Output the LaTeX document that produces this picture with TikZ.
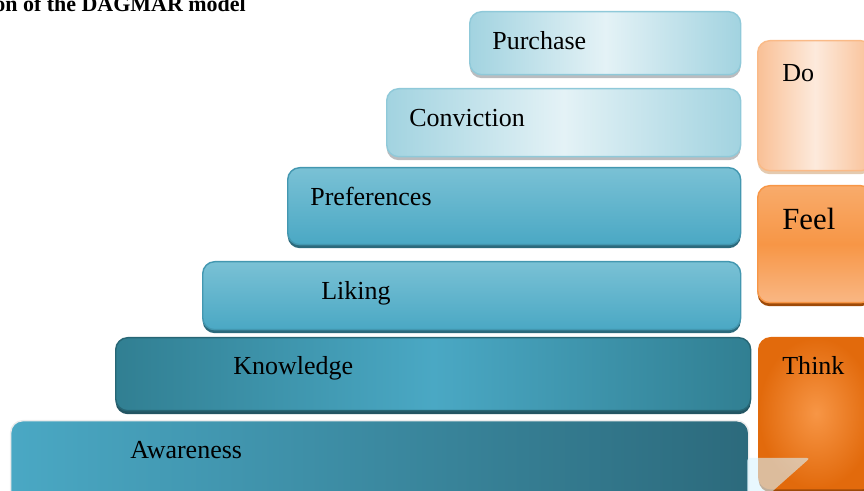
\documentclass[tikz,border=0pt]{standalone}
\usepackage{fontspec}
\setmainfont{Liberation Serif}
\usepackage{tikz}
\usetikzlibrary{shadows,positioning}

\definecolor{paleblue}{HTML}{E4F2F6}
\definecolor{lightblue}{HTML}{A2D3E0}
\definecolor{lightedge}{HTML}{8FC9D9}
\definecolor{midblue}{HTML}{4AA8C4}
\definecolor{topblue}{HTML}{7AC1D5}
\definecolor{darkteal}{HTML}{317F92}
\definecolor{deepteal}{HTML}{2C6A7C}
\definecolor{peach}{HTML}{F9C096}
\definecolor{palepeach}{HTML}{FDEADC}
\definecolor{orangemid}{HTML}{F79646}
\definecolor{orangedark}{HTML}{E26A0C}
\definecolor{orangelight}{HTML}{F9B784}

\begin{document}
\begin{tikzpicture}
[box/.style={rectangle,rounded corners=0.24cm,inner sep=0pt,anchor=north west},
 lightbar/.style={box,draw=lightedge,thick,left color=lightblue,right color=lightblue,middle color=paleblue,
   drop shadow={shadow xshift=0cm,shadow yshift=-0.07cm,fill=gray!80!cyan!60!black,opacity=0.45}},
 midbar/.style={box,draw=midblue!90!black,thick,top color=topblue,bottom color=midblue,
   drop shadow={shadow xshift=0cm,shadow yshift=-0.07cm,fill=deepteal,opacity=1}},
 lbl/.style={inner sep=0pt,anchor=base west,font=\fontsize{14.8}{17}\selectfont}]

\useasboundingbox (0,0) rectangle (17.28,9.82);

\node[anchor=base west,inner sep=0pt,font=\fontsize{12.5}{15}\selectfont\bfseries] (title) at (-0.12,9.58) {on of the DAGMAR model};

\node[lightbar,minimum width=5.42cm,minimum height=1.26cm] (purchase) at (9.38,9.60) {};
\node[lightbar,minimum width=7.08cm,minimum height=1.36cm] (conviction) at (7.72,8.06) {};
\node[midbar,minimum width=9.06cm,minimum height=1.54cm] (preferences) at (5.74,6.48) {};
\node[midbar,minimum width=10.76cm,minimum height=1.36cm] (liking) at (4.04,4.60) {};
\node[box,minimum width=12.70cm,minimum height=1.46cm,draw=darkteal!80!black,thick,
  left color=darkteal,right color=darkteal,middle color=midblue,
  drop shadow={shadow xshift=0cm,shadow yshift=-0.07cm,fill=deepteal!80!black,opacity=1}] (knowledge) at (2.30,3.08) {};
\node[box,minimum width=14.76cm,minimum height=1.80cm,draw=white!85!gray,thick,
  shading angle=60,left color=midblue,right color=deepteal] (awareness) at (0.20,1.42) {};

\node[box,minimum width=2.30cm,minimum height=2.60cm,draw=peach!90!orange,thick,
  shading angle=45,left color=peach,right color=peach,middle color=palepeach,
  drop shadow={shadow xshift=0cm,shadow yshift=-0.07cm,fill=brown!70,opacity=0.6}] (do) at (15.14,9.02) {};
\node[box,minimum width=2.30cm,minimum height=2.34cm,draw=orangemid,thick,
  top color=orangemid!80!white,bottom color=orangelight,middle color=orangemid,
  drop shadow={shadow xshift=0cm,shadow yshift=-0.07cm,fill=orangedark!70!black,opacity=1}] (feel) at (15.14,6.12) {};
\node[box,minimum width=2.30cm,minimum height=3.02cm,draw=orangedark,thick,
  inner color=orangemid,outer color=orangedark,
  drop shadow={shadow xshift=0cm,shadow yshift=-0.07cm,fill=orangedark!70!black,opacity=1}] (think) at (15.16,3.08) {};

\fill[cyan!15!white,opacity=0.6,rounded corners=0.06cm] (14.94,0.66) -- (16.20,0.66) -- (15.40,-0.05) -- (14.94,-0.05) -- cycle;

\node[lbl] (purchase-txt) at (9.84,8.82) {Purchase};
\node[lbl] (conviction-txt) at (8.18,7.28) {Conviction};
\node[lbl] (preferences-txt) at (6.20,5.70) {Preferences};
\node[lbl] (liking-txt) at (6.42,3.82) {Liking};
\node[lbl] (knowledge-txt) at (4.66,2.32) {Knowledge};
\node[lbl] (awareness-txt) at (2.60,0.64) {Awareness};

\node[lbl] (do-txt) at (15.64,8.18) {Do};
\node[lbl,font=\fontsize{17.5}{20}\selectfont] (feel-txt) at (15.64,5.22) {Feel};
\node[lbl] (think-txt) at (15.64,2.32) {Think};
\end{tikzpicture}
\end{document}
